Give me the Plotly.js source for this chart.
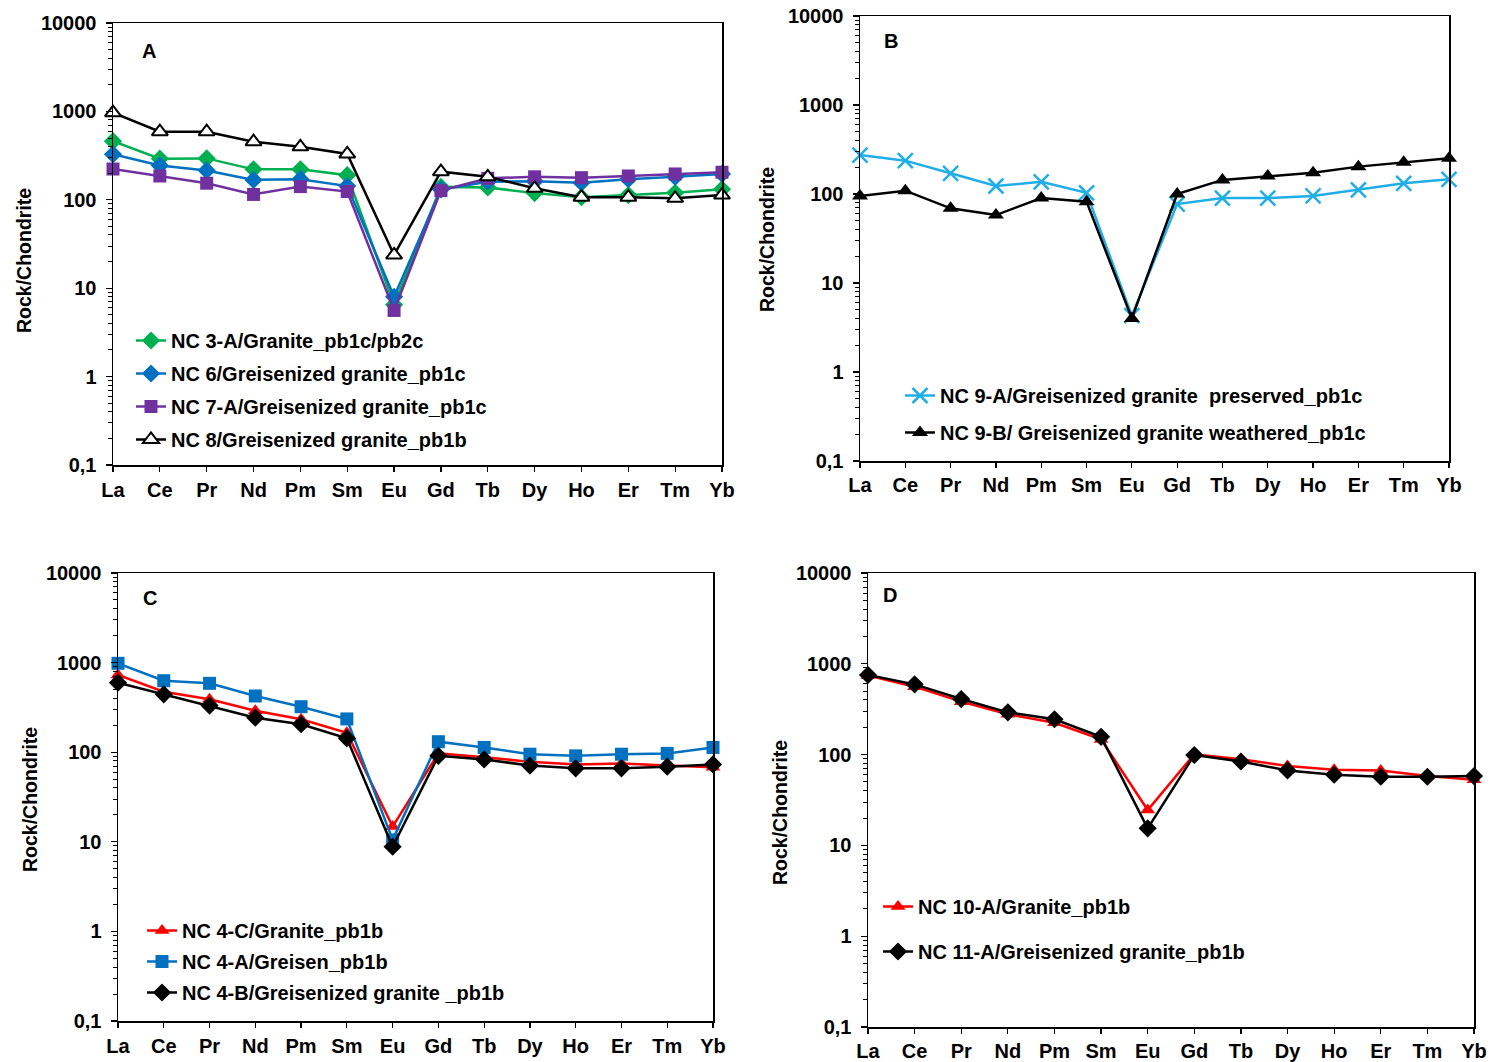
<!DOCTYPE html>
<html>
<head>
<meta charset="utf-8">
<script src="https://cdn.plot.ly/plotly-3.0.1.min.js"></script>
<style>html,body{margin:0;padding:0;background:#fff;}#chart{width:1490px;height:1062px;}</style>
</head>
<body>
<div id="chart"></div>
<script>
// ---- Data (chondrite-normalised REE) ----
const elements = ['La','Ce','Pr','Nd','Pm','Sm','Eu','Gd','Tb','Dy','Ho','Er','Tm','Yb'];

// Panel A
const nc3A = [461, 292, 294, 221, 221, 190, 6.5, 140, 138, 119, 107, 113, 120, 132];
const nc6  = [327, 245, 215, 168, 171, 143, 8.0, 131, 160, 162, 156, 171, 182, 196];
const nc7A = [223, 186, 154, 115, 141, 124, 5.6, 127, 175, 182, 178, 186, 196, 205];
const nc8  = [966, 589, 589, 454, 398, 330, 23.8, 208, 182, 135, 107, 107, 104, 113];
// Panel B
const nc9A = [274, 237, 171, 123, 137, 103, 4.3, 77, 90, 90, 95, 111, 132, 146];
const nc9B = [95, 109, 69, 58, 90, 82, 4.0, 100, 144, 159, 173, 203, 227, 252];
// Panel C
const nc4C = [727, 473, 389, 290, 233, 165, 14.8, 97, 88, 78, 73, 75, 71, 68];
const nc4A = [982, 628, 587, 424, 322, 235, 10.5, 131, 113, 95, 91, 95, 97, 113];
const nc4B = [597, 443, 331, 243, 205, 143, 8.8, 91, 83, 71, 66, 66, 69, 73];
// Panel D
const nc10A = [745, 560, 383, 278, 224, 147, 24.5, 101, 89, 75, 68, 67, 58, 53];
const nc11A = [753, 594, 409, 292, 245, 157, 15.4, 99, 84, 67, 60, 57, 57, 58];

const names = {
  nc3A: 'NC 3-A/Granite_pb1c/pb2c',
  nc6: 'NC 6/Greisenized granite_pb1c',
  nc7A: 'NC 7-A/Greisenized granite_pb1c',
  nc8: 'NC 8/Greisenized granite_pb1b',
  nc9A: 'NC 9-A/Greisenized granite  preserved_pb1c',
  nc9B: 'NC 9-B/ Greisenized granite weathered_pb1c',
  nc4C: 'NC 4-C/Granite_pb1b',
  nc4A: 'NC 4-A/Greisen_pb1b',
  nc4B: 'NC 4-B/Greisenized granite _pb1b',
  nc10A: 'NC 10-A/Granite_pb1b',
  nc11A: 'NC 11-A/Greisenized granite_pb1b'
};
const yTickVals = [0.1, 1, 10, 100, 1000, 10000];
const yTickText = ['0,1', '1', '10', '100', '1000', '10000'];

// ---- Styling ----
const FONT = 'Liberation Sans, Arial, sans-serif';
const LW = 2.5;
function tr(y, name, color, symbol, size, xa, ya, leg, grp, extra) {
  const m = Object.assign({color: color, size: size, symbol: symbol, line: {width: 0}}, extra || {});
  return {
    x: elements, y: y, name: name, type: 'scatter', mode: 'lines+markers',
    line: {color: color, width: LW}, marker: m, xaxis: xa, yaxis: ya,
    legend: leg, legendgroup: grp, cliponaxis: false, showlegend: true
  };
}
const GREEN = '#00B050', BLUE = '#0070C0', PURPLE = '#7030A0', CYAN = '#1FAEE8', RED = '#FF0000';

const traces = [
  tr(nc3A, names.nc3A, GREEN, 'diamond', 14, 'x', 'y', 'legend', 'a1'),
  tr(nc6, names.nc6, BLUE, 'diamond', 14, 'x', 'y', 'legend', 'a2'),
  tr(nc7A, names.nc7A, PURPLE, 'square', 13, 'x', 'y', 'legend', 'a3'),
  tr(nc8, names.nc8, '#000000', 'triangle-up', 14, 'x', 'y', 'legend', 'a4', {color: '#ffffff', line: {color: '#000000', width: 2}}),

  tr(nc9A, names.nc9A, CYAN, 'x-thin-open', 15, 'x2', 'y2', 'legend2', 'b1', {line: {color: CYAN, width: 2.5}}),
  tr(nc9B, names.nc9B, '#000000', 'triangle-up', 14, 'x2', 'y2', 'legend2', 'b2'),

  tr(nc4C, names.nc4C, RED, 'triangle-up', 13, 'x3', 'y3', 'legend3', 'c1'),
  tr(nc4A, names.nc4A, BLUE, 'square', 13, 'x3', 'y3', 'legend3', 'c2'),
  tr(nc4B, names.nc4B, '#000000', 'diamond', 14, 'x3', 'y3', 'legend3', 'c3'),

  tr(nc10A, names.nc10A, RED, 'triangle-up', 13, 'x4', 'y4', 'legend4', 'd1'),
  tr(nc11A, names.nc11A, '#000000', 'diamond', 14, 'x4', 'y4', 'legend4', 'd2')
];

const W = 1490, H = 1062;
function px(x) { return x / W; }
function py(y) { return 1 - y / H; }

const minorVals = [];
for (let e = -1; e < 4; e++) for (let d = 2; d <= 9; d++) minorVals.push(d * Math.pow(10, e));

function xax(x0, x1, anchor, standoff) {
  return {
    domain: [px(x0), px(x1)], anchor: anchor, type: 'category', range: [0, 13],
    showline: true, linecolor: '#000', linewidth: 1.5, mirror: true,
    ticks: 'outside', ticklen: 5, tickcolor: '#000', tickwidth: 1.2,
    showgrid: false, zeroline: false, fixedrange: true,
    tickfont: {family: FONT, size: 20, color: '#000', weight: 'bold'},
    ticklabelstandoff: standoff
  };
}
function yax(y0, y1, anchor) {
  return {
    domain: [py(y1), py(y0)], anchor: anchor, type: 'log', range: [-1, 4],
    showline: true, linecolor: '#000', linewidth: 1.5, mirror: true,
    tickmode: 'array', tickvals: yTickVals, ticktext: yTickText,
    ticks: 'outside', ticklen: 6, tickcolor: '#000', tickwidth: 1.2,
    minor: {tickmode: 'array', tickvals: minorVals, ticks: 'outside', ticklen: 4, tickcolor: '#000', tickwidth: 1, showgrid: false},
    showgrid: false, zeroline: false, fixedrange: true,
    tickfont: {family: FONT, size: 20, color: '#000', weight: 'bold'},
    ticklabelstandoff: 5
  };
}
function leg(xText, yFirst, gap) {
  return {
    x: px(xText - 40), y: py(yFirst - 20), xanchor: 'left', yanchor: 'top',
    xref: 'paper', yref: 'paper',
    bgcolor: 'rgba(0,0,0,0)', borderwidth: 0,
    font: {family: FONT, size: 20, color: '#000', weight: 'bold'},
    tracegroupgap: gap, traceorder: 'grouped', itemwidth: 30
  };
}
function ann(text, x, y, size, angle) {
  return {text: text, x: px(x), y: py(y), xref: 'paper', yref: 'paper', showarrow: false,
    xanchor: 'center', yanchor: 'middle', textangle: angle || 0,
    font: {family: FONT, size: size, color: '#000', weight: 'bold'}};
}

const layout = {
  width: W, height: H, margin: {l: 0, r: 0, t: 0, b: 0},
  paper_bgcolor: '#fff', plot_bgcolor: '#fff',
  font: {family: FONT, color: '#000'},
  xaxis: xax(113, 722, 'y', 1), yaxis: yax(23, 465, 'x'),
  xaxis2: xax(860, 1449, 'y2', 0), yaxis2: yax(16, 461, 'x2'),
  xaxis3: xax(118, 713, 'y3', 1), yaxis3: yax(573, 1021, 'x3'),
  xaxis4: xax(868, 1474, 'y4', 0), yaxis4: yax(573, 1027, 'x4'),
  legend: leg(171, 341, 4),
  legend2: leg(940, 396, 8),
  legend3: leg(182, 931, 2),
  legend4: leg(918, 907, 16),
  annotations: [
    ann('A', 149, 51, 20), ann('B', 891, 41, 20), ann('C', 150, 598, 20), ann('D', 890, 595, 20),
    ann('Rock/Chondrite', 24, 261, 19.5, -90),
    ann('Rock/Chondrite', 767, 239, 19.5, -90),
    ann('Rock/Chondrite', 30, 800, 19.5, -90),
    ann('Rock/Chondrite', 780, 813, 19.5, -90)
  ],
  showlegend: true
};

Plotly.newPlot('chart', traces, layout, {displayModeBar: false, staticPlot: true});
</script>
</body>
</html>
